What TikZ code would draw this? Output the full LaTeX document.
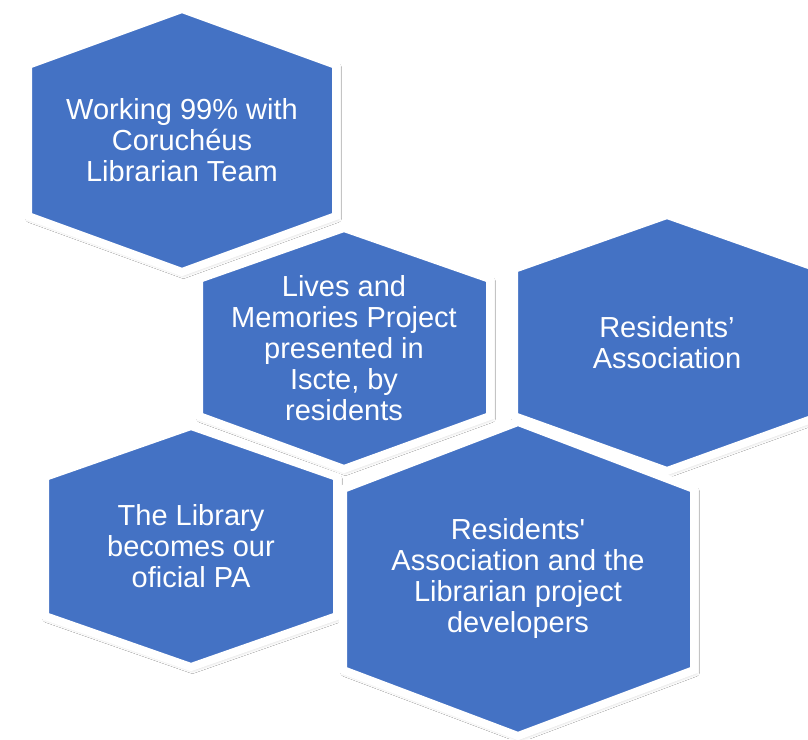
\documentclass[tikz,border=0pt]{standalone}
\usepackage{fontspec}
\setmainfont{Liberation Sans}
\usetikzlibrary{shadows.blur}
\definecolor{hexblue}{HTML}{4472C4}
\begin{document}
\begin{tikzpicture}[x=1pt, y=-1pt,
    hexcell/.style={fill=hexblue, draw=white, line width=8pt, line join=miter,
      blur shadow={shadow xshift=1.5pt, shadow yshift=-2.5pt, shadow blur radius=4pt, shadow opacity=25}},
    celltext/.style={text=white, align=center, font=\fontsize{29}{31}\selectfont}]
    \clip (0,0) rectangle (808,739);
    \fill[white] (0,0) rectangle (808,739);

    % Librarian team
    \path[hexcell] (182,9) -- (336,65) -- (336,216) -- (182,272) -- (28,216) -- (28,65) -- cycle;
    \node[celltext] (team) at (182,140) {Working 99\% with\\Coruchéus\\Librarian Team};

    % Lives and Memories
    \path[hexcell] (344,228) -- (490,279) -- (490,416) -- (344,469) -- (199,416) -- (199,279) -- cycle;
    \node[celltext] (lives) at (344,348) {Lives and\\Memories Project\\presented in\\Iscte, by\\residents};

    % Residents' association, cut by the right edge
    \path[hexcell] (667,215) -- (820,269) -- (820,416) -- (667,471) -- (514,416) -- (514,269) -- cycle;
    \node[celltext] (assoc) at (667,343) {Residents’\\Association};

    % The Library
    \path[hexcell] (191,426) -- (337,477) -- (337,616) -- (191,667) -- (45,616) -- (45,477) -- cycle;
    \node[celltext] (library) at (191,546) {The Library\\becomes our\\oficial PA};

    % Residents and developers
    \path[hexcell] (518,422) -- (694,489) -- (694,670) -- (518,736) -- (343,670) -- (343,489) -- cycle;
    \node[celltext] (devs) at (518,578) {Residents\textquotesingle\\Association and the\\Librarian project\\developers};
\end{tikzpicture}
\end{document}
